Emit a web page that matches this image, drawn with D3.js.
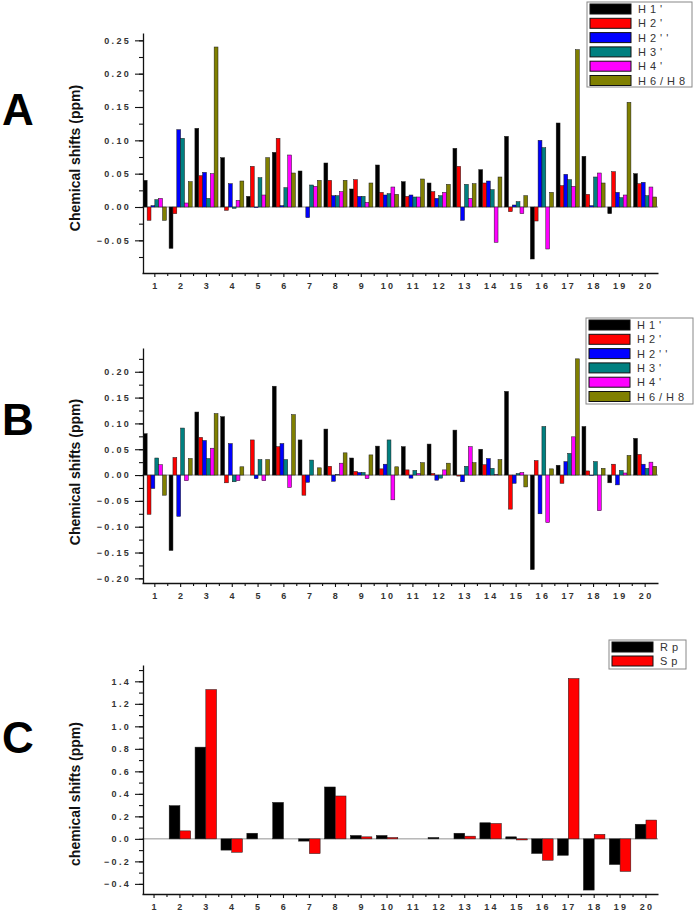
<!DOCTYPE html>
<html><head><meta charset="utf-8">
<script src="https://cdn.jsdelivr.net/npm/d3@7"></script>
<style>
html,body{margin:0;padding:0;background:#fff;}
svg text{font-family:"Liberation Sans",Arial,sans-serif;}
</style></head>
<body>
<svg id="c" width="697" height="913"></svg>
<script>
// ---------- DATA ----------
const categories = ["1","2","3","4","5","6","7","8","9","10","11","12","13","14","15","16","17","18","19","20"];
const seriesNamesAB = ["H1'", "H2'", "H2''", "H3'", "H4'", "H6/H8"];
const seriesColorsAB = ["#000000", "#ff0000", "#0000ff", "#008080", "#ff00ff", "#808000"];

const A_H1   = [0.040,-0.062,0.118,0.074,0.016,0.082,0.054,0.066,0.027,0.063,0.038,0.036,0.088,0.056,0.106,-0.078,0.126,0.076,-0.010,0.050];
const A_H2   = [-0.020,-0.010,0.047,-0.005,0.061,0.103,0.000,0.040,0.041,0.022,0.016,0.023,0.061,0.036,-0.007,-0.021,0.032,0.019,0.053,0.035];
const A_H2pp = [0.002,0.116,0.052,0.035,-0.001,0.002,-0.016,0.017,0.016,0.018,0.018,0.013,-0.020,0.039,0.003,0.100,0.049,0.002,0.022,0.037];
const A_H3   = [0.011,0.103,0.013,-0.002,0.044,0.029,0.033,0.017,0.016,0.020,0.015,0.017,0.034,0.026,0.008,0.089,0.041,0.045,0.014,0.017];
const A_H4   = [0.013,0.006,0.050,0.010,0.018,0.078,0.031,0.023,0.007,0.030,0.015,0.022,0.013,-0.053,-0.010,-0.063,0.031,0.051,0.018,0.030];
const A_H68  = [-0.020,0.038,0.240,0.039,0.074,0.051,0.040,0.040,0.036,0.019,0.042,0.034,0.035,0.045,0.017,0.022,0.236,0.036,0.157,0.015];

const B_H1   = [0.080,-0.146,0.122,0.113,0.000,0.172,0.068,0.089,0.033,0.056,0.055,0.060,0.087,0.050,0.162,-0.183,0.019,0.094,-0.015,0.071];
const B_H2   = [-0.076,0.034,0.073,-0.015,0.068,0.055,-0.039,0.017,0.007,0.012,0.010,0.003,-0.002,0.020,-0.066,0.028,-0.016,0.008,0.021,0.040];
const B_H2pp = [-0.026,-0.080,0.067,0.061,-0.007,0.061,-0.014,-0.012,0.005,0.021,-0.006,-0.010,-0.013,0.032,-0.016,-0.075,0.026,-0.001,-0.019,0.021];
const B_H3   = [0.033,0.091,0.032,-0.013,0.030,0.030,0.029,0.001,0.005,0.068,0.009,-0.006,0.017,0.013,0.003,0.094,0.042,0.026,0.009,0.013];
const B_H4   = [0.020,-0.011,0.052,-0.011,-0.011,-0.024,0.000,0.023,-0.007,-0.048,0.003,0.010,0.055,0.001,0.005,-0.092,0.074,-0.069,0.004,0.025];
const B_H68  = [-0.039,0.032,0.119,0.016,0.030,0.117,0.014,0.043,0.039,0.016,0.024,0.023,0.024,0.030,-0.023,0.012,0.225,0.013,0.038,0.017];

const seriesNamesC = ["Rp", "Sp"];
const seriesColorsC = ["#000000", "#ff0000"];
const C_Rp = [0,0.295,0.815,-0.100,0.050,0.324,-0.020,0.461,0.030,0.030,0.000,0.012,0.050,0.143,0.018,-0.130,-0.146,-0.455,-0.228,0.130];
const C_Sp = [0,0.071,1.327,-0.119,0,0,-0.131,0.381,0.018,0.012,0.000,0,0.024,0.137,-0.010,-0.190,1.425,0.040,-0.289,0.167];

const yTicksA = [-0.05,0,0.05,0.10,0.15,0.20,0.25];
const yTicksB = [-0.20,-0.15,-0.10,-0.05,0,0.05,0.10,0.15,0.20];
const yTicksC = [-0.4,-0.2,0,0.2,0.4,0.6,0.8,1.0,1.2,1.4];

// ---------- PANELS ----------
const panels = [
  {letter:"A", letterY:125, title:"Chemical shifts (ppm)", titleY:158,
   domain:[-0.099,0.261], yRange:[273,33], ticks:yTicksA, minorStep:0.025, fmt:d3.format(".2f"),
   names:seriesNamesAB, colors:seriesColorsAB, series:[A_H1,A_H2,A_H2pp,A_H3,A_H4,A_H68], pad:0.105,
   legend:{x:587,y:2,w:105,h:85,rowH:14.3}},
  {letter:"B", letterY:435, title:"Chemical shifts (ppm)", titleY:472,
   domain:[-0.209,0.246], yRange:[583,348], ticks:yTicksB, minorStep:0.025, fmt:d3.format(".2f"),
   names:seriesNamesAB, colors:seriesColorsAB, series:[B_H1,B_H2,B_H2pp,B_H3,B_H4,B_H68], pad:0.105,
   legend:{x:586,y:318,w:107,h:86,rowH:14.3}},
  {letter:"C", letterY:753, title:"chemical shifts (ppm)", titleY:794,
   domain:[-0.49,1.545], yRange:[894,665], ticks:yTicksC, minorStep:0.1, fmt:d3.format(".1f"),
   names:seriesNamesC, colors:seriesColorsC, series:[C_Rp,C_Sp], pad:0.17,
   legend:{x:609,y:640,w:77,h:29,rowH:14}}
];

const svg = d3.select("#c");
const X0 = 142, X1 = 658;

panels.forEach(p => {
  const g = svg.append("g");
  const x0 = d3.scaleBand().domain(categories).range([X0, X1]).paddingInner(p.pad).paddingOuter(0.05);
  const x1 = d3.scaleBand().domain(d3.range(p.series.length)).range([0, x0.bandwidth()]);
  const y = d3.scaleLinear().domain(p.domain).range(p.yRange);
  const yBase = p.yRange[0];

  // zero line
  g.append("line").attr("x1", X0).attr("x2", X1).attr("y1", y(0)).attr("y2", y(0))
    .attr("stroke", "#777").attr("stroke-width", 0.8);

  // bars
  p.series.forEach((vals, si) => {
    g.append("g").selectAll("rect").data(vals).join("rect")
      .attr("x", (d, i) => x0(categories[i]) + x1(si))
      .attr("width", x1.bandwidth())
      .attr("y", d => y(Math.max(0, d)))
      .attr("height", d => Math.abs(y(d) - y(0)))
      .attr("fill", p.colors[si])
      .attr("stroke", d => d === 0 ? "none" : "#1a1a1a")
      .attr("stroke-width", 0.5);
  });

  // y axis (major)
  const yAxis = d3.axisLeft(y).tickValues(p.ticks).tickSize(8).tickSizeOuter(0).tickPadding(6)
    .tickFormat(p.fmt);
  const ya = g.append("g").attr("transform", `translate(${X0 + 1},0)`).call(yAxis);
  // minor y ticks
  const minorVals = d3.range(Math.ceil(p.domain[0] / p.minorStep), Math.floor(p.domain[1] / p.minorStep) + 1)
    .map(k => +(k * p.minorStep).toFixed(4));
  g.append("g").attr("transform", `translate(${X0 + 1},0)`)
    .call(d3.axisLeft(y).tickValues(minorVals).tickSize(4).tickFormat(""))
    .call(s => s.select(".domain").remove());
  ya.select(".domain").attr("stroke", "#111").attr("stroke-width", 1.3);
  g.selectAll(".tick line").attr("stroke", "#111").attr("stroke-width", 1.1);
  ya.selectAll(".tick text").attr("font-size", 9).attr("font-weight", "bold").attr("fill", "#333")
    .attr("letter-spacing", "2.3px").attr("dx", "2px")
    .style("font-family", "'Liberation Sans', Arial, sans-serif");

  // x axis
  const xAxis = d3.axisBottom(x0).tickSize(4).tickSizeOuter(0).tickPadding(6);
  const xa = g.append("g").attr("transform", `translate(0,${yBase})`).call(xAxis);
  xa.select(".domain").attr("stroke", "#111").attr("stroke-width", 1.3);
  xa.selectAll(".tick line").attr("stroke", "#111").attr("stroke-width", 1.1);
  xa.selectAll(".tick text").attr("font-size", 9).attr("font-weight", "bold").attr("fill", "#333")
    .attr("letter-spacing", "2.3px").attr("dx", "1px")
    .style("font-family", "'Liberation Sans', Arial, sans-serif");
  // minor x ticks between categories
  g.append("g").selectAll("line").data(categories.slice(0, -1)).join("line")
    .attr("x1", c => x0(c) + x0.bandwidth() / 2 + x0.step() / 2)
    .attr("x2", c => x0(c) + x0.bandwidth() / 2 + x0.step() / 2)
    .attr("y1", yBase).attr("y2", yBase + 3).attr("stroke", "#111").attr("stroke-width", 1.1);

  // y title
  g.append("text").attr("transform", `translate(80,${p.titleY}) rotate(-90)`)
    .attr("text-anchor", "middle").attr("font-size", 14).attr("font-weight", "bold").attr("fill", "#111")
    .text(p.title);

  // panel letter
  g.append("text").attr("x", 2).attr("y", p.letterY).attr("font-size", 44).attr("font-weight", "bold")
    .attr("fill", "#000").text(p.letter);

  // legend
  const L = p.legend;
  const lg = g.append("g").attr("transform", `translate(${L.x},${L.y})`);
  lg.append("rect").attr("width", L.w).attr("height", L.h).attr("fill", "#fff")
    .attr("stroke", "#888").attr("stroke-width", 1);
  p.names.forEach((n, i) => {
    const cy = 7 + i * L.rowH;
    lg.append("rect").attr("x", 3).attr("y", cy - 5).attr("width", 41).attr("height", 10)
      .attr("fill", p.colors[i]).attr("stroke", "#111").attr("stroke-width", 1);
    lg.append("text").attr("x", 51).attr("y", cy + 4).attr("font-size", 11).attr("fill", "#333")
      .attr("letter-spacing", "4px").text(n);
  });
});
</script>
</body></html>
